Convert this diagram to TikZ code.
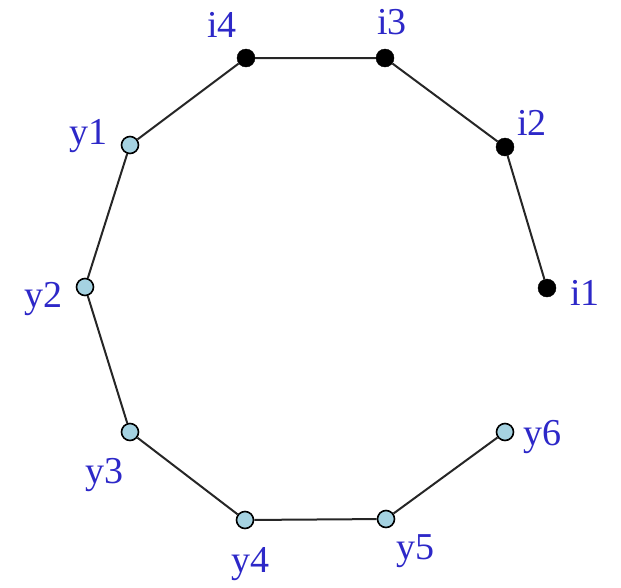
\documentclass[tikz,border=0pt]{standalone}
\usepackage{fontspec}
\setmainfont{Liberation Serif}
\definecolor{lbl}{RGB}{45,40,200}
\definecolor{lb}{RGB}{165,210,225}
\begin{document}
\begin{tikzpicture}[x=1pt,y=-1pt,
  bnode/.style={circle,fill=black,draw=black,inner sep=0pt,minimum size=18pt},
  ynode/.style={circle,fill=lb,draw=black,line width=1.6pt,inner sep=0pt,minimum size=17pt},
  lab/.style={text=lbl,font=\fontsize{38}{38}\selectfont,inner sep=0pt},
  edge/.style={line width=2pt,draw=black!85}]
\useasboundingbox (0,0) rectangle (621,587);
\node[bnode] (i4) at (246,58) {};
\node[bnode] (i3) at (385,58) {};
\node[bnode] (i2) at (505,147) {};
\node[bnode] (i1) at (547,288) {};
\node[ynode] (y1) at (130,145) {};
\node[ynode] (y2) at (85,287) {};
\node[ynode] (y3) at (130,432) {};
\node[ynode] (y4) at (245,520) {};
\node[ynode] (y5) at (386,519) {};
\node[ynode] (y6) at (505,432) {};
\draw[edge] (i1) -- (i2) -- (i3) -- (i4) -- (y1) -- (y2) -- (y3) -- (y4) -- (y5) -- (y6);
\node[lab] (li4) at (222,25) {i4};
\node[lab] (li3) at (392,22) {i3};
\node[lab] (li2) at (532,123) {i2};
\node[lab] (li1) at (585,293) {i1};
\node[lab] (ly1) at (88,136) {y1};
\node[lab] (ly2) at (43,299) {y2};
\node[lab] (ly3) at (104,475) {y3};
\node[lab] (ly4) at (250,564) {y4};
\node[lab] (ly5) at (415,551) {y5};
\node[lab] (ly6) at (542,437) {y6};
\end{tikzpicture}
\end{document}
